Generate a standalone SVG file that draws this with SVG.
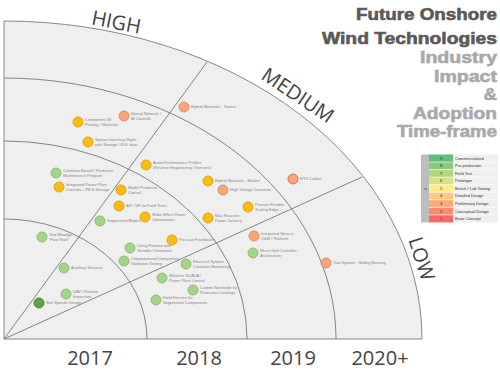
<svg xmlns="http://www.w3.org/2000/svg" width="500" height="373" viewBox="0 0 500 373">
<style>
.bg{fill:#efefef;stroke:#888;stroke-width:1}
.ln{fill:none;stroke:#777;stroke-width:0.9}
.n{stroke-width:0.9}
.y{fill:#f9bb14;stroke:#e0a000}
.s{fill:#f6a67e;stroke:#e3845a}
.g{fill:#a8d18d;stroke:#88bb6c}
.dg{fill:#62a346;stroke:#46862d}
.lb{font-family:"Liberation Sans",Arial,sans-serif;font-size:4px;fill:#858585}
.yr{font-family:"Open Sans","Liberation Sans",sans-serif;font-size:20px;fill:#444;text-anchor:middle}
.lv{font-family:"Open Sans","Liberation Sans",sans-serif;font-size:20px;fill:#444;text-anchor:middle}
.t1{font-family:"Liberation Sans",Arial,sans-serif;font-weight:bold;font-size:16.5px;fill:#595959;stroke:#595959;stroke-width:0.6;text-anchor:end}
.t2{font-family:"Liberation Sans",Arial,sans-serif;font-weight:bold;font-size:16.5px;fill:#a9a9a9;stroke:#a9a9a9;stroke-width:0.6;text-anchor:end}
.lg{font-family:"Liberation Sans",Arial,sans-serif;font-size:4px;fill:#333}
.num{font-family:"Liberation Sans",Arial,sans-serif;font-size:4px;fill:#222;text-anchor:middle}
</style>
<rect width="500" height="373" fill="#fff"/>
<g id="chart">
<path class="bg" d="M4,339 L4,21 A418,318 0 0,1 422,339 Z"/>
<path class="ln" d="M4,78 A332,261 0 0,1 336,339"/>
<path class="ln" d="M4,141 A243,198 0 0,1 247,339"/>
<path class="ln" d="M4,219 A143,120 0 0,1 147,339"/>
<path class="ln" d="M4,339 L207,62"/>
<path class="ln" d="M4,339 L362,177"/>
</g>
<g id="levels">
<text class="lv" transform="translate(115,29) rotate(11)">HIGH</text>
<text class="lv" transform="translate(294,101) rotate(34)">MEDIUM</text>
<text class="lv" transform="translate(415,261) rotate(72)">LOW</text>
</g>
<g id="years">
<text class="yr" x="90" y="365">2017</text>
<text class="yr" x="199" y="365">2018</text>
<text class="yr" x="293" y="365">2019</text>
<text class="yr" x="380" y="365">2020+</text>
</g>
<g id="title">
<text class="t1" x="497" y="20" textLength="141" lengthAdjust="spacingAndGlyphs">Future Onshore</text>
<text class="t1" x="497" y="44" textLength="175" lengthAdjust="spacingAndGlyphs">Wind Technologies</text>
<text class="t2" x="497" y="63" textLength="77" lengthAdjust="spacingAndGlyphs">Industry</text>
<text class="t2" x="497" y="81.5" textLength="63" lengthAdjust="spacingAndGlyphs">Impact</text>
<text class="t2" x="497" y="100" textLength="13.5" lengthAdjust="spacingAndGlyphs">&amp;</text>
<text class="t2" x="497" y="118.5" textLength="84" lengthAdjust="spacingAndGlyphs">Adoption</text>
<text class="t2" x="497" y="137" textLength="100" lengthAdjust="spacingAndGlyphs">Time-frame</text>
</g>
<g id="legend">
<rect x="421" y="154.5" width="8" height="68" fill="#bdbdbd"/>
<text class="lg" transform="translate(426.5,189) rotate(-90)" text-anchor="middle">#</text>
<rect x="429" y="154.5" width="24" height="7.55" fill="#63BE7B"/>
<rect x="429" y="162.05" width="24" height="7.55" fill="#8AC97D"/>
<rect x="429" y="169.6" width="24" height="7.55" fill="#B1D580"/>
<rect x="429" y="177.15" width="24" height="7.55" fill="#D8E082"/>
<rect x="429" y="184.7" width="24" height="7.55" fill="#FFEB84"/>
<rect x="429" y="192.25" width="24" height="7.55" fill="#FECA7E"/>
<rect x="429" y="199.8" width="24" height="7.55" fill="#FCAA78"/>
<rect x="429" y="207.35" width="24" height="7.55" fill="#FA8A71"/>
<rect x="429" y="214.9" width="24" height="7.55" fill="#F8696B"/>
<rect x="453" y="154.5" width="45" height="68" fill="#f0f0f0"/>
<g stroke="#fff" stroke-width="0.6">
<line x1="429" y1="162.05" x2="498" y2="162.05"/>
<line x1="429" y1="169.6" x2="498" y2="169.6"/>
<line x1="429" y1="177.15" x2="498" y2="177.15"/>
<line x1="429" y1="184.7" x2="498" y2="184.7"/>
<line x1="429" y1="192.25" x2="498" y2="192.25"/>
<line x1="429" y1="199.8" x2="498" y2="199.8"/>
<line x1="429" y1="207.35" x2="498" y2="207.35"/>
<line x1="429" y1="214.9" x2="498" y2="214.9"/>
</g>
<text class="num" x="441" y="159.7">9</text>
<text class="num" x="441" y="167.2">8</text>
<text class="num" x="441" y="174.8">7</text>
<text class="num" x="441" y="182.3">6</text>
<text class="num" x="441" y="189.9">5</text>
<text class="num" x="441" y="197.4">4</text>
<text class="num" x="441" y="205">3</text>
<text class="num" x="441" y="212.5">2</text>
<text class="num" x="441" y="220.1">1</text>
<text class="lg" x="455" y="159.7">Commercialized</text>
<text class="lg" x="455" y="167.2">Pre-production</text>
<text class="lg" x="455" y="174.8">Field Test</text>
<text class="lg" x="455" y="182.3">Prototype</text>
<text class="lg" x="455" y="189.9">Bench / Lab Testing</text>
<text class="lg" x="455" y="197.4">Detailed Design</text>
<text class="lg" x="455" y="205">Preliminary Design</text>
<text class="lg" x="455" y="212.5">Conceptual Design</text>
<text class="lg" x="455" y="220.1">Basic Concept</text>
</g>
<g id="connectors"></g>
<g id="n-towers"><circle class="n s" cx="184" cy="107" r="5"/><text class="lb" x="191" y="108.4">Hybrid Materials - Towers</text></g>
<g id="n-neural"><circle class="n s" cx="124" cy="116" r="5"/><text class="lb" x="131" y="115">Neural Network /<tspan x="131" dy="5">AI Controls</tspan></text></g>
<g id="n-printing"><circle class="n y" cx="78" cy="122" r="5"/><text class="lb" x="85" y="121">Component 3D<tspan x="85" dy="5">Printing / Materials</tspan></text></g>
<g id="n-spares"><circle class="n y" cx="88" cy="142" r="5"/><text class="lb" x="95" y="141">Spares Inventory Mgmt<tspan x="95" dy="5">with Storage / RUL data</tspan></text></g>
<g id="n-asset"><circle class="n y" cx="146" cy="165" r="5"/><text class="lb" x="153" y="164">Asset Performance Profiles<tspan x="153" dy="5">(Reverse Engineering / Sensors)</tspan></text></g>
<g id="n-condition"><circle class="n g" cx="56" cy="173" r="5"/><text class="lb" x="63" y="172">Condition Based / Predictive<tspan x="63" dy="5">Maintenance Program</tspan></text></g>
<g id="n-ipp"><circle class="n y" cx="59" cy="187" r="5"/><text class="lb" x="66" y="186">Integrated Power Plant<tspan x="66" dy="5">Controls – PE &amp; Storage</tspan></text></g>
<g id="n-mpc"><circle class="n y" cx="121" cy="190" r="5"/><text class="lb" x="128" y="189">Model Predictive<tspan x="128" dy="5">Control</tspan></text></g>
<g id="n-arvr"><circle class="n y" cx="119" cy="206" r="5"/><text class="lb" x="126" y="207.4">AR / VR for Field Tests</text></g>
<g id="n-wake"><circle class="n y" cx="145" cy="217" r="5"/><text class="lb" x="152" y="216">Wake Effect Power<tspan x="152" dy="5">Optimization</tspan></text></g>
<g id="n-segblades"><circle class="n g" cx="100" cy="221" r="5"/><text class="lb" x="107" y="222.4">Segmented Blades</text></g>
<g id="n-yawmis"><circle class="n g" cx="42" cy="237" r="5"/><text class="lb" x="49" y="236">Yaw Misalign<tspan x="49" dy="5">“Fast Start”</tspan></text></g>
<g id="n-lifting"><circle class="n g" cx="130" cy="248" r="5"/><text class="lb" x="137" y="247">Lifting Fixtures with<tspan x="137" dy="5">Variable Orientation</tspan></text></g>
<g id="n-compval"><circle class="n g" cx="124" cy="261" r="5"/><text class="lb" x="131" y="260">Computational Component<tspan x="131" dy="5">Validation Testing</tspan></text></g>
<g id="n-aux"><circle class="n g" cx="64" cy="268" r="5"/><text class="lb" x="71" y="269.4">Auxiliary Services</text></g>
<g id="n-uav"><circle class="n g" cx="66" cy="294" r="5"/><text class="lb" x="73" y="293">UAV / Remote<tspan x="73" dy="5">Inspection</tspan></text></g>
<g id="n-site"><circle class="n dg" cx="39" cy="303" r="5"/><text class="lb" x="46" y="304.4">Site Specific Design</text></g>
<g id="n-precast"><circle class="n y" cx="172" cy="240" r="5"/><text class="lb" x="179" y="241.4">Pre-cast Foundation</text></g>
<g id="n-blades"><circle class="n y" cx="208" cy="181" r="5"/><text class="lb" x="215" y="182.4">Hybrid Materials - Blades</text></g>
<g id="n-hvc"><circle class="n s" cx="223" cy="190" r="5"/><text class="lb" x="230" y="191.4">High Voltage Converter</text></g>
<g id="n-passive"><circle class="n y" cx="248" cy="207" r="5"/><text class="lb" x="255" y="206">Passive Flexible<tspan x="255" dy="5">Trailing Edge</tspan></text></g>
<g id="n-maxreact"><circle class="n y" cx="208" cy="218" r="5"/><text class="lb" x="215" y="217">Max Reactive<tspan x="215" dy="5">Power Delivery</tspan></text></g>
<g id="n-hts"><circle class="n s" cx="293" cy="179" r="5" style="stroke:#d6703f"/><text class="lb" x="300" y="180.4">HTS Cables</text></g>
<g id="n-intserv"><circle class="n s" cx="254" cy="236" r="5"/><text class="lb" x="261" y="235">Integrated Service<tspan x="261" dy="5">O&amp;M / Platform</tspan></text></g>
<g id="n-microgrid"><circle class="n g" cx="253" cy="253" r="5"/><text class="lb" x="260" y="252">Micro Grid Controller<tspan x="260" dy="5">Architecture</tspan></text></g>
<g id="n-elec"><circle class="n g" cx="186" cy="264" r="5"/><text class="lb" x="193" y="263">Electrical System<tspan x="193" dy="5">Condition Monitoring</tspan></text></g>
<g id="n-wireless"><circle class="n g" cx="162" cy="278" r="5"/><text class="lb" x="169" y="277">Wireless SCADA /<tspan x="169" dy="5">Power Plant Control</tspan></text></g>
<g id="n-carbon"><circle class="n g" cx="193" cy="290" r="5"/><text class="lb" x="200" y="289">Carbon Nanotube for<tspan x="200" dy="5">Protection Coatings</tspan></text></g>
<g id="n-fieldfix"><circle class="n g" cx="156" cy="300" r="5"/><text class="lb" x="163" y="299">Field Fixtures for<tspan x="163" dy="5">Segmented Components</tspan></text></g>
<g id="n-yawsys"><circle class="n s" cx="326" cy="263" r="5"/><text class="lb" x="333" y="264.4">Yaw System - Sliding Bearing</text></g>
</svg>
